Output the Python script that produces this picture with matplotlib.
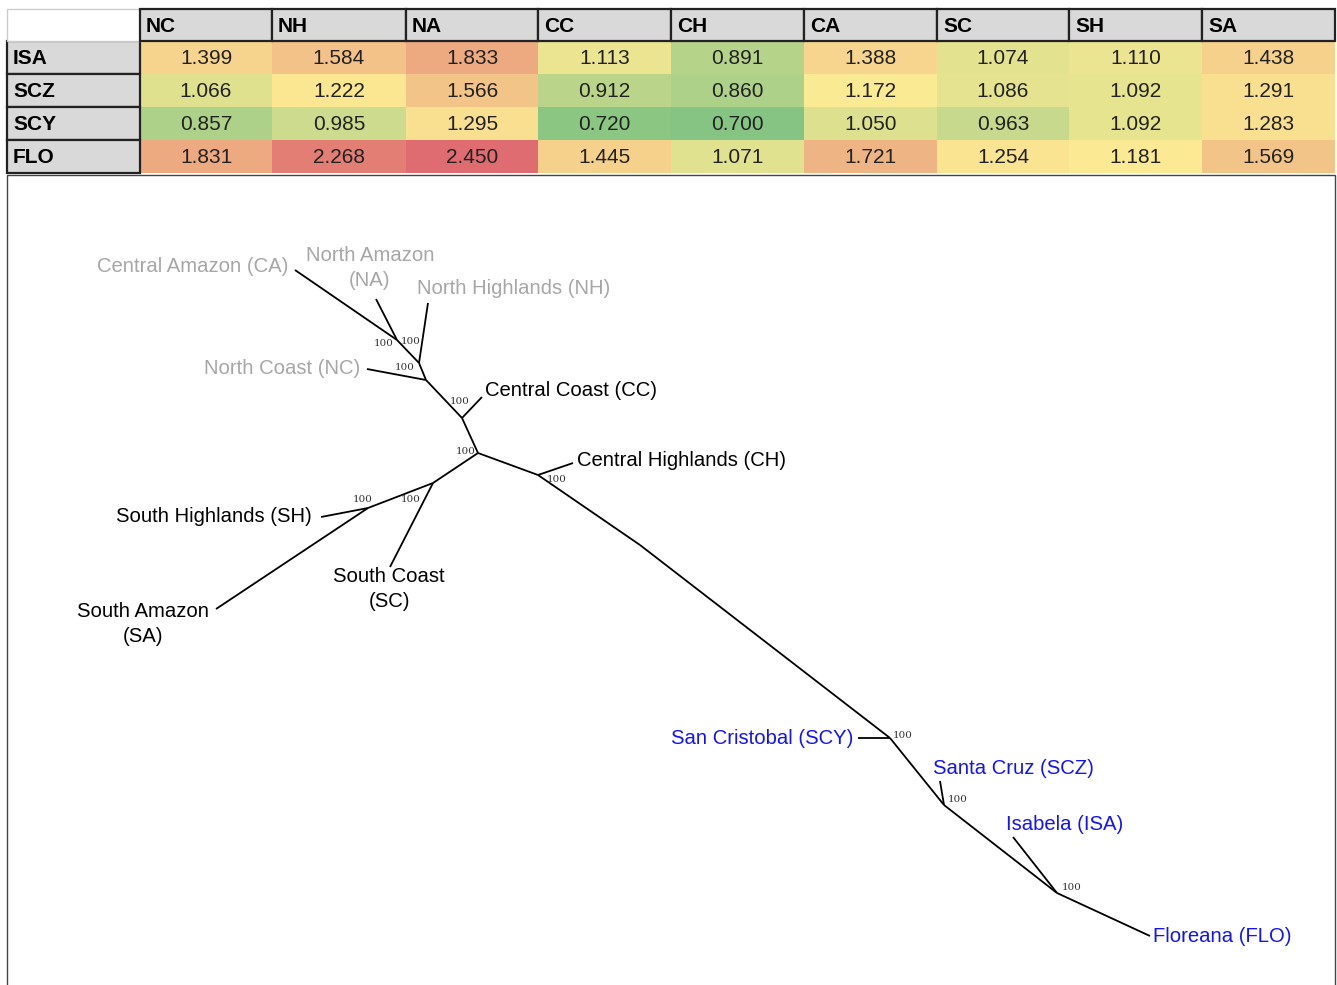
import numpy as np
import matplotlib.pyplot as plt
from matplotlib.patches import Rectangle
from matplotlib.colors import LinearSegmentedColormap, TwoSlopeNorm

# Pairwise distances: islands (rows) vs mainland populations (columns)
col_labels = ['NC', 'NH', 'NA', 'CC', 'CH', 'CA', 'SC', 'SH', 'SA']
row_labels = ['ISA', 'SCZ', 'SCY', 'FLO']
isa = [1.399, 1.584, 1.833, 1.113, 0.891, 1.388, 1.074, 1.110, 1.438]
scz = [1.066, 1.222, 1.566, 0.912, 0.860, 1.172, 1.086, 1.092, 1.291]
scy = [0.857, 0.985, 1.295, 0.720, 0.700, 1.050, 0.963, 1.092, 1.283]
flo = [1.831, 2.268, 2.450, 1.445, 1.071, 1.721, 1.254, 1.181, 1.569]
dist = np.array([isa, scz, scy, flo])

# Unrooted tree layout (pixel space of the figure)
node_xy = {
    'R': (478, 453), 'A': (462, 418), 'B': (426, 380), 'C': (419, 363), 'D': (397, 340),
    'E': (433, 483), 'F': (368, 508), 'G': (538, 475), 'K': (640, 545),
    'H': (890, 738), 'I': (944, 805), 'J': (1057, 893),
    'CA': (295, 270), 'NA': (376, 299), 'NH': (428, 303), 'NC': (367, 369),
    'CC': (482, 397), 'CH': (573, 463), 'SH': (321, 517), 'SA': (216, 609),
    'SC': (390, 567), 'SCY': (858, 738), 'SCZ': (940, 781), 'ISA': (1013, 837),
    'FLO': (1150, 936),
}
edges = [('R', 'A'), ('A', 'CC'), ('A', 'B'), ('B', 'NC'), ('B', 'C'), ('C', 'NH'),
         ('C', 'D'), ('D', 'NA'), ('D', 'CA'), ('R', 'E'), ('E', 'SC'), ('E', 'F'),
         ('F', 'SH'), ('F', 'SA'), ('R', 'G'), ('G', 'CH'), ('G', 'K'), ('K', 'H'),
         ('H', 'SCY'), ('H', 'I'), ('I', 'SCZ'), ('I', 'J'), ('J', 'ISA'), ('J', 'FLO')]
bootstrap = {'D': 100, 'C': 100, 'B': 100, 'A': 100, 'R': 100, 'G': 100,
             'E': 100, 'F': 100, 'H': 100, 'I': 100, 'J': 100}
boot_pos = {'D': (384, 344), 'C': (411, 342), 'B': (405, 367), 'A': (460, 401),
            'R': (466, 451), 'G': (557, 480), 'E': (411, 499), 'F': (363, 499),
            'H': (903, 735), 'I': (958, 799), 'J': (1072, 888)}

GRAY = '#a6a6a6'
BLUE = '#1414ee'
tip_labels = [
    ('Central Amazon (CA)', 288, 267, 'right', GRAY),
    ('North Amazon\n(NA)', 370, 268, 'center', GRAY),
    ('North Highlands (NH)', 417, 288, 'left', GRAY),
    ('North Coast (NC)', 360, 369, 'right', GRAY),
    ('Central Coast (CC)', 485, 390, 'left', 'black'),
    ('Central Highlands (CH)', 577, 460, 'left', 'black'),
    ('South Highlands (SH)', 312, 516, 'right', 'black'),
    ('South Coast\n(SC)', 389, 589, 'center', 'black'),
    ('South Amazon\n(SA)', 143, 624, 'center', 'black'),
    ('San Cristobal (SCY)', 853, 738, 'right', BLUE),
    ('Santa Cruz (SCZ)', 933, 769, 'left', BLUE),
    ('Isabela (ISA)', 1006, 825, 'left', BLUE),
    ('Floreana (FLO)', 1153, 936, 'left', BLUE),
]

fig = plt.figure(figsize=(13.37, 9.85), dpi=100)
ax = fig.add_axes([0, 0, 1, 1])
ax.set_xlim(0, 1337)
ax.set_ylim(985, 0)
ax.axis('off')

# ---- table ----
col_edges = [7, 140, 272, 406, 538, 671, 804, 937, 1069, 1202, 1335]
row_edges = [9, 41, 74, 107, 140, 173]
tfont = ['Liberation Sans Narrow', 'Liberation Sans', 'DejaVu Sans']
cmap = LinearSegmentedColormap.from_list('ryg', ['#7cbf78', '#fce98a', '#dc6064'])
norm = TwoSlopeNorm(vmin=dist.min(), vcenter=np.median(dist), vmax=dist.max())

for i, lab in enumerate(row_labels):
    y0, y1 = row_edges[i + 1], row_edges[i + 2]
    for j in range(len(col_labels)):
        x0, x1 = col_edges[j + 1], col_edges[j + 2]
        ax.add_patch(Rectangle((x0, y0), x1 - x0, y1 - y0, facecolor=cmap(norm(dist[i, j])),
                               edgecolor='none', alpha=0.92))
        ax.text((x0 + x1) / 2, (y0 + y1) / 2 + 1, f'{dist[i, j]:.3f}', ha='center', va='center',
                fontsize=15, family=tfont, color='#222222')
    ax.add_patch(Rectangle((col_edges[0], y0), col_edges[1] - col_edges[0], y1 - y0,
                           facecolor='#d9d9d9', edgecolor='#222222', lw=1.6))
    ax.text(col_edges[0] + 6, (y0 + y1) / 2 + 1, lab, ha='left', va='center', fontsize=15,
            fontweight='bold', family=tfont, color='black')

ax.add_patch(Rectangle((col_edges[0], row_edges[0]), col_edges[1] - col_edges[0],
                       row_edges[1] - row_edges[0], facecolor='white', edgecolor='#cccccc', lw=1))
for j, lab in enumerate(col_labels):
    x0, x1 = col_edges[j + 1], col_edges[j + 2]
    ax.add_patch(Rectangle((x0, row_edges[0]), x1 - x0, row_edges[1] - row_edges[0],
                           facecolor='#d9d9d9', edgecolor='#222222', lw=1.6))
    ax.text(x0 + 6, (row_edges[0] + row_edges[1]) / 2 + 1, lab, ha='left', va='center',
            fontsize=15, fontweight='bold', family=tfont, color='black')

# ---- tree panel ----
ax.add_patch(Rectangle((7, 175), 1328, 830, facecolor='white', edgecolor='#444444', lw=1))

for a, b in edges:
    xa, ya = node_xy[a]
    xb, yb = node_xy[b]
    ax.plot([xa, xb], [ya, yb], color='black', lw=1.3, solid_capstyle='butt')

for n, v in bootstrap.items():
    bx, by = boot_pos[n]
    ax.text(bx, by, str(v), ha='center', va='center', fontsize=7.5,
            family='DejaVu Serif', color='#333333')

for txt, x, y, ha, c in tip_labels:
    ax.text(x, y, txt, ha=ha, va='center', fontsize=14.6, family='Liberation Sans',
            color=c, linespacing=1.35)

fig.savefig('out.png', dpi=100)
